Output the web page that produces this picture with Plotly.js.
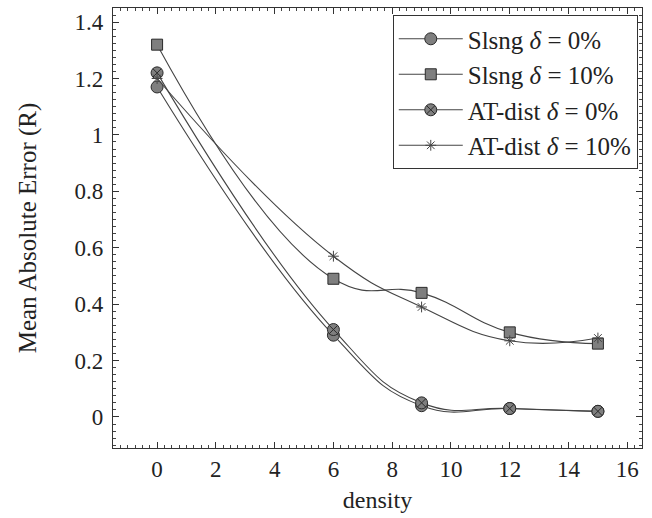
<!DOCTYPE html>
<html>
<head>
<meta charset="utf-8">
<script src="https://cdn.plot.ly/plotly-3.0.1.min.js"></script>
<style>
  html, body { margin: 0; padding: 0; background: #fff; }
  #chart { width: 652px; height: 518px; }
</style>
</head>
<body>
<div id="chart"></div>
<script>
// Mean absolute error against network density
const density = [0, 6, 9, 12, 15];

const slsng0 = [1.17, 0.29, 0.04, 0.03, 0.02];
const slsng10 = [1.32, 0.49, 0.44, 0.30, 0.26];
const atdist0 = [1.22, 0.31, 0.05, 0.03, 0.02];
const atdist10 = [1.20, 0.57, 0.39, 0.27, 0.28];

const seriesNames = [
  'Slsng <i>δ</i> = 0%',
  'Slsng <i>δ</i> = 10%',
  'AT-dist <i>δ</i> = 0%',
  'AT-dist <i>δ</i> = 10%'
];

const xTickVals = [0, 2, 4, 6, 8, 10, 12, 14, 16];
const yTickVals = [0, 0.2, 0.4, 0.6, 0.8, 1, 1.2, 1.4];
const yTickText = ['0', '0.2', '0.4', '0.6', '0.8', '1', '1.2', '1.4'];

const lineColor = '#444';
const fillGray = '#7f7f7f';
const serif = 'Liberation Serif, Times New Roman, serif';

function series(y, name, symbol, size) {
  return {
    x: density,
    y: y,
    name: name,
    type: 'scatter',
    mode: 'lines+markers',
    line: { color: lineColor, width: 1.1, shape: 'spline', smoothing: 1.3 },
    marker: {
      symbol: symbol,
      size: size,
      color: symbol === 'asterisk-open' ? lineColor : fillGray,
      line: { color: '#2a2a2a', width: 1 }
    }
  };
}

const data = [
  series(slsng0, seriesNames[0], 'circle', 12),
  series(slsng10, seriesNames[1], 'square', 11),
  series(atdist0, seriesNames[2], 'circle-x', 12),
  series(atdist10, seriesNames[3], 'asterisk-open', 9)
];

const axisCommon = {
  showgrid: false,
  zeroline: false,
  showline: true,
  linecolor: '#333',
  linewidth: 1.2,
  mirror: 'allticks',
  ticks: 'inside',
  ticklen: 6,
  tickcolor: '#333',
  tickfont: { family: serif, size: 23, color: '#222' }
};

const layout = {
  width: 652,
  height: 518,
  margin: { l: 113, r: 10, t: 8, b: 70 },
  paper_bgcolor: '#fff',
  plot_bgcolor: '#fff',
  font: { family: serif, color: '#222' },
  xaxis: Object.assign({}, axisCommon, {
    range: [-1.5, 16.5],
    tickmode: 'array',
    tickvals: xTickVals,
    minor: { dtick: 0.25, ticks: 'inside', ticklen: 3, tickcolor: '#444', showgrid: false },
    title: { text: 'density', font: { family: serif, size: 24, color: '#222' }, standoff: 10 }
  }),
  yaxis: Object.assign({}, axisCommon, {
    range: [-0.11, 1.45],
    tickmode: 'array',
    tickvals: yTickVals,
    ticktext: yTickText,
    ticklabelstandoff: 4,
    minor: { dtick: 0.025, ticks: 'inside', ticklen: 3, tickcolor: '#444', showgrid: false },
    title: { text: 'Mean Absolute Error (R)', font: { family: serif, size: 25, color: '#222' }, standoff: 30 }
  }),
  legend: {
    x: 0.992,
    y: 0.984,
    xanchor: 'right',
    yanchor: 'top',
    bgcolor: '#fff',
    bordercolor: '#333',
    borderwidth: 1,
    font: { family: serif, size: 25, color: '#222' },
    itemwidth: 64
  },
  showlegend: true
};

Plotly.newPlot('chart', data, layout, { displayModeBar: false, staticPlot: true });
</script>
</body>
</html>
